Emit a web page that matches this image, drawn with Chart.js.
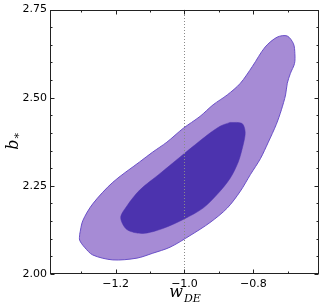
<!DOCTYPE html>
<html><head><meta charset="utf-8">
<script src="https://cdn.jsdelivr.net/npm/chart.js@4/dist/chart.umd.min.js"></script>
<style>html,body{margin:0;padding:0;background:#fff;}canvas{display:block;}</style>
</head><body>
<canvas id="c" width="320" height="303"></canvas>
<script>
// Outer (95%) contour: w_DE values and b_* values
const outerW = [-1.304,-1.295,-1.266,-1.208,-1.130,-1.092,-1.051,-1.004,-0.955,-0.917,-0.876,-0.838,-0.803,-0.766,-0.731,-0.702,-0.684,-0.680,-0.681,-0.693,-0.702,-0.707,-0.719,-0.734,-0.757,-0.780,-0.809,-0.838,-0.876,-0.926,-0.984,-1.042,-1.092,-1.138,-1.208,-1.266,-1.290,-1.304,-1.304];
const outerB = [2.112,2.151,2.199,2.260,2.318,2.346,2.374,2.413,2.447,2.480,2.508,2.541,2.589,2.644,2.672,2.675,2.653,2.625,2.597,2.569,2.541,2.508,2.466,2.424,2.374,2.327,2.282,2.235,2.187,2.146,2.109,2.076,2.059,2.045,2.040,2.054,2.076,2.096,2.112];
// Inner (68%) contour
const innerW = [-0.868,-0.833,-0.824,-0.830,-0.844,-0.868,-0.905,-0.946,-0.999,-1.063,-1.121,-1.167,-1.185,-1.167,-1.130,-1.071,-0.999,-0.934,-0.897,-0.868];
const innerB = [2.430,2.427,2.402,2.366,2.318,2.271,2.226,2.187,2.157,2.129,2.115,2.126,2.160,2.193,2.238,2.285,2.343,2.394,2.419,2.430];
// Reference line w_DE = -1
const refW = [-1.0,-1.0];
const refB = [2.0,2.75];
// Tick labels
const xTicks = [-1.2,-1.0,-0.8];
const yTicks = [2.00,2.25,2.50,2.75];
const xMinor = [-1.3,-1.1,-0.9,-0.7];
const yMinor = [2.05,2.10,2.15,2.20,2.30,2.35,2.40,2.45,2.55,2.60,2.65,2.70];

const pts = (xs, ys) => xs.map((x,i)=>({x:x, y:ys[i]}));

const framePlugin = {
  id:'frame',
  beforeDraw(chart){
    const c=chart.ctx; c.save(); c.fillStyle='#fff'; c.fillRect(0,0,chart.width,chart.height); c.restore();
  },
  afterDraw(chart){
    const c=chart.ctx, a=chart.chartArea, xs=chart.scales.x, ys=chart.scales.y;
    c.save();
    c.strokeStyle='#222'; c.lineWidth=1;
    const L=Math.round(a.left)+0.5, R=Math.round(a.right)-0.5, T=Math.round(a.top)+0.5, B=Math.round(a.bottom)-0.5;
    c.strokeRect(L,T,R-L,B-T);
    c.beginPath();
    const tickX=(v,len)=>{const p=Math.round(xs.getPixelForValue(v))+0.5; c.moveTo(p,B); c.lineTo(p,B-len); c.moveTo(p,T); c.lineTo(p,T+len);};
    const tickY=(v,len)=>{const p=Math.round(ys.getPixelForValue(v))+0.5; c.moveTo(L,p); c.lineTo(L+len,p); c.moveTo(R,p); c.lineTo(R-len,p);};
    xTicks.forEach(v=>tickX(v,4)); xMinor.forEach(v=>tickX(v,2));
    yTicks.forEach(v=>tickY(v,4)); yMinor.forEach(v=>tickY(v,2));
    c.stroke();
    // axis titles
    c.fillStyle='#000';
    c.textBaseline='alphabetic';
    const cx=(a.left+a.right)/2;
    c.font='italic 16px "DejaVu Serif"';
    const ww=c.measureText('w').width;
    c.font='italic 11px "DejaVu Serif"';
    const dw=c.measureText('DE').width;
    const x0=cx-(ww+dw)/2;
    c.font='italic 16px "DejaVu Serif"'; c.textAlign='left';
    c.fillText('w',x0,297);
    c.font='italic 11px "DejaVu Serif"';
    c.fillText('DE',x0+ww+1,302);
    // y title
    const cy=(a.top+a.bottom)/2;
    c.translate(18,cy); c.rotate(-Math.PI/2);
    c.font='italic 16px "DejaVu Serif"';
    const bw=c.measureText('b').width;
    c.font='11px "DejaVu Serif"';
    const sw=c.measureText('*').width;
    c.textAlign='left';
    c.font='italic 16px "DejaVu Serif"';
    c.fillText('b',-(bw+sw)/2,0);
    c.font='11px "DejaVu Serif"';
    c.fillText('*',-(bw+sw)/2+bw+1,4);
    c.restore();
  }
};

new Chart(document.getElementById('c'),{
  type:'line',
  data:{datasets:[
    {label:'ref', data:pts(refW,refB), borderColor:'#8a8a8a', borderWidth:1, borderDash:[1,2], pointRadius:0, fill:false, order:0},
    {label:'inner', data:pts(innerW,innerB), borderColor:'#4c33ae', backgroundColor:'#4c33ae', borderWidth:0.5, pointRadius:0, fill:'shape', tension:0.3, order:1},
    {label:'outer', data:pts(outerW,outerB), borderColor:'#6a50c8', backgroundColor:'#a68bd5', borderWidth:1, pointRadius:0, fill:'shape', tension:0.3, order:2}
  ]},
  options:{
    responsive:false, animation:false, devicePixelRatio:1,
    layout:{padding:{top:5,right:1,left:0,bottom:0}},
    plugins:{legend:{display:false}, tooltip:{enabled:false}},
    scales:{
      x:{type:'linear', min:-1.39, max:-0.61,
        afterBuildTicks:s=>{s.ticks=xTicks.map(v=>({value:v}));},
        afterFit:s=>{s.height=29;},
        grid:{display:false, drawTicks:false}, border:{display:false},
        ticks:{padding:4, color:'#000', font:{family:'DejaVu Sans', size:11}, maxRotation:0,
          callback:v=>(v<0?'\u2212':'')+Math.abs(v).toFixed(1)}},
      y:{type:'linear', min:2.0, max:2.75,
        afterBuildTicks:s=>{s.ticks=yTicks.map(v=>({value:v}));},
        afterFit:s=>{s.width=50;},
        grid:{display:false, drawTicks:false}, border:{display:false},
        ticks:{padding:3, color:'#000', font:{family:'DejaVu Sans', size:11},
          callback:v=>Number(v).toFixed(2)}}
    }
  },
  plugins:[framePlugin]
});
</script>
</body></html>
